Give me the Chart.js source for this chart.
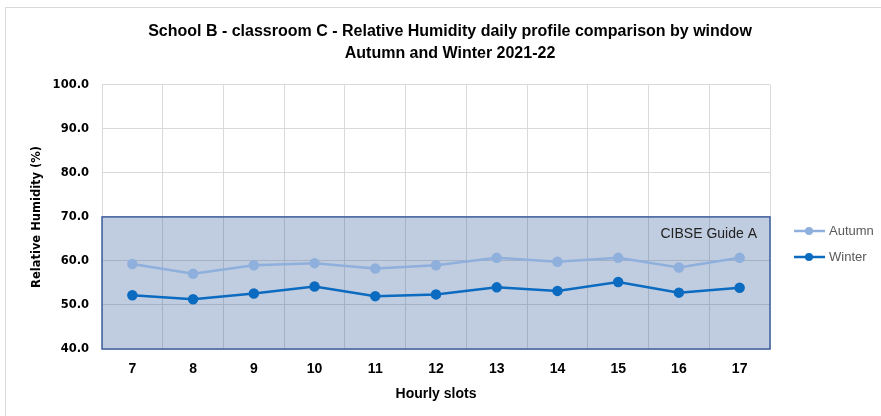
<!DOCTYPE html>
<html>
<head>
<meta charset="utf-8">
<script src="https://cdn.jsdelivr.net/npm/chart.js@4/dist/chart.umd.min.js"></script>
<style>
  body { margin: 0; background: #fff; }
  #frame { position: absolute; left: 5px; top: 7px; width: 900px; height: 420px; border: 1px solid #d9d9d9; }
  #wrap { position: absolute; left: 0; top: 0; width: 881px; height: 416px; }
</style>
</head>
<body>
<div id="frame"></div>
<div id="wrap"><canvas id="rh-chart"></canvas></div>
<script>
const hours = ["7", "8", "9", "10", "11", "12", "13", "14", "15", "16", "17"];
const autumnRH = [59.3, 57.1, 59.0, 59.5, 58.3, 59.0, 60.7, 59.8, 60.7, 58.5, 60.7];
const winterRH = [52.2, 51.3, 52.6, 54.2, 52.0, 52.4, 54.0, 53.2, 55.2, 52.8, 53.9];
const titleLines = ["School B - classroom C - Relative Humidity daily profile comparison by window", "Autumn and Winter 2021-22"];
const comfortBand = [40, 70]; // CIBSE Guide A range

const sans = "'Liberation Sans', Arial, sans-serif";

// shaded comfort band, drawn over the grid but under the lines
const bandPlugin = {
  id: "band",
  beforeDatasetsDraw(chart) {
    const { ctx, chartArea, scales } = chart;
    const yTop = scales.y.getPixelForValue(comfortBand[1]);
    const yBot = scales.y.getPixelForValue(comfortBand[0]);
    ctx.save();
    ctx.fillStyle = "rgba(47, 85, 151, 0.3)";
    ctx.fillRect(chartArea.left, yTop, chartArea.right - chartArea.left, yBot - yTop);
    ctx.strokeStyle = "#3f5f9f";
    ctx.lineWidth = 1.5;
    ctx.strokeRect(chartArea.left, yTop, chartArea.right - chartArea.left, yBot - yTop);
    ctx.fillStyle = "#222";
    ctx.font = "14px " + sans;
    ctx.textAlign = "right";
    ctx.textBaseline = "middle";
    ctx.fillText("CIBSE Guide A", chartArea.right - 13, yTop + 17);
    ctx.restore();
  },
};

// legend on the right: line with marker
const legendPlugin = {
  id: "sideLegend",
  afterDraw(chart) {
    const { ctx, chartArea } = chart;
    const x0 = chartArea.right + 24;
    chart.data.datasets.forEach((ds, i) => {
      const y = 231 + i * 26;
      ctx.save();
      ctx.strokeStyle = ds.borderColor;
      ctx.lineWidth = 2.5;
      ctx.beginPath();
      ctx.moveTo(x0, y);
      ctx.lineTo(x0 + 31, y);
      ctx.stroke();
      ctx.fillStyle = ds.pointBackgroundColor;
      ctx.beginPath();
      ctx.arc(x0 + 15, y, 4, 0, Math.PI * 2);
      ctx.fill();
      ctx.fillStyle = "#595959";
      ctx.font = "13px " + sans;
      ctx.textAlign = "left";
      ctx.textBaseline = "middle";
      ctx.fillText(ds.label, x0 + 35, y);
      ctx.restore();
    });
  },
};

new Chart(document.getElementById("rh-chart"), {
  type: "line",
  data: {
    labels: hours,
    datasets: [
      {
        label: "Autumn",
        data: autumnRH,
        borderColor: "#8fb0dc",
        pointBackgroundColor: "#8fb0dc",
        pointBorderColor: "#8fb0dc",
        borderWidth: 2.5,
        pointRadius: 4,
        tension: 0,
      },
      {
        label: "Winter",
        data: winterRH,
        borderColor: "#0b6bc0",
        pointBackgroundColor: "#0b6bc0",
        pointBorderColor: "#0b6bc0",
        borderWidth: 2.5,
        pointRadius: 4,
        tension: 0,
      },
    ],
  },
  options: {
    responsive: true,
    maintainAspectRatio: false,
    animation: false,
    layout: {
      padding: { left: 19, right: 0, top: 0, bottom: 0 },
    },
    plugins: {
      legend: { display: false },
      tooltip: { enabled: false },
      title: {
        display: true,
        text: titleLines,
        color: "#000",
        font: { family: sans, size: 16, weight: "bold", lineHeight: 1.4 },
        padding: { top: 20, bottom: 20 },
      },
    },
    scales: {
      x: {
        offset: true,
        grid: { offset: true, color: "#d9d9d9", drawTicks: false },
        border: { display: false },
        ticks: {
          color: "#000",
          padding: 12,
          font: { family: sans, size: 14, weight: "bold" },
        },
        title: {
          display: true,
          text: "Hourly slots",
          color: "#000",
          font: { family: sans, size: 14, weight: "bold" },
          padding: { top: 4, bottom: 13 },
        },
        afterFit(scale) {
          scale.height = 67;
        },
      },
      y: {
        min: 40,
        max: 100,
        grid: { color: "#d9d9d9", drawTicks: false },
        border: { display: false },
        ticks: {
          stepSize: 10,
          color: "#000",
          padding: 13,
          font: { family: "'DejaVu Sans', sans-serif", size: 11.5, weight: "bold" },
          callback: (v) => Number(v).toFixed(1),
        },
        title: {
          display: true,
          text: "Relative Humidity (%)",
          color: "#000",
          font: { family: "'DejaVu Sans', sans-serif", size: 11.5, weight: "bold" },
          padding: { top: 11, bottom: 0 },
        },
        afterFit(scale) {
          scale.width = 83;
        },
      },
      // empty right-hand axis that only reserves room for the legend
      legendSpace: {
        position: "right",
        min: 0,
        max: 1,
        grid: { display: false, drawOnChartArea: false },
        border: { display: false },
        ticks: { display: false },
        afterFit(scale) {
          scale.width = 111;
        },
      },
    },
  },
  plugins: [bandPlugin, legendPlugin],
});
</script>
</body>
</html>
